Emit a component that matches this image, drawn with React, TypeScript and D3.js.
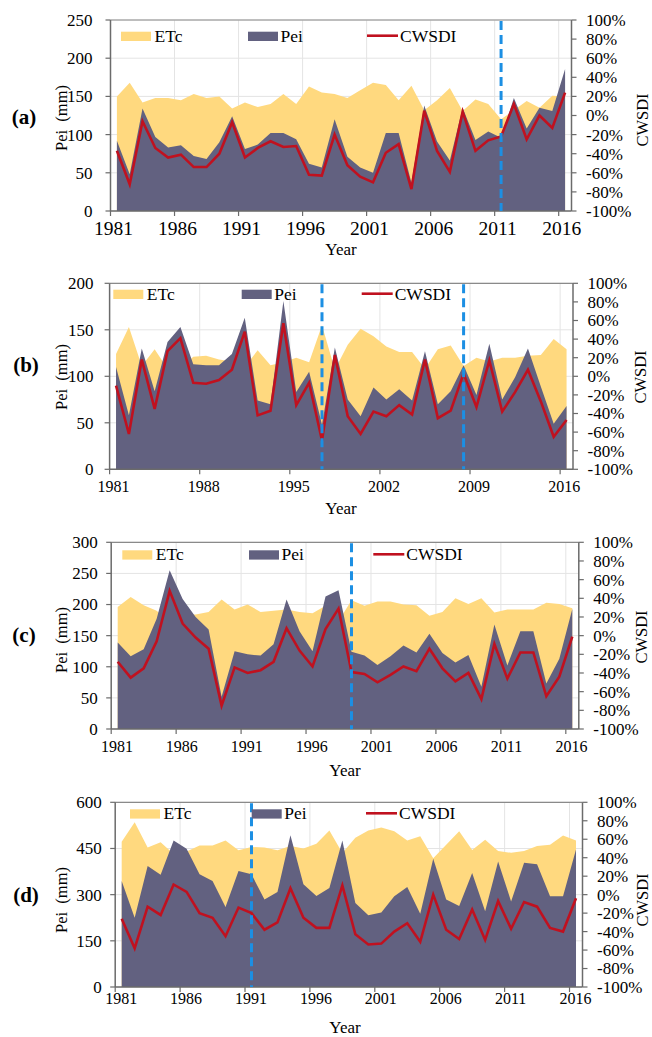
import React from "react";
import * as d3 from "d3";

const years = [1981,1982,1983,1984,1985,1986,1987,1988,1989,1990,1991,1992,1993,1994,1995,1996,1997,1998,1999,2000,2001,2002,2003,2004,2005,2006,2007,2008,2009,2010,2011,2012,2013,2014,2015,2016];

// Panel (a)
const etcA = [150,168,142,148,148,145,153,148,150,134,142,136,140,153,140,163,155,153,148,158,168,165,145,164,132,145,161,131,146,140,120,132,144,135,151,150];
const peiA = [92,48,134,97,83,86,72,68,90,124,81,87,102,102,94,62,57,120,71,57,50,102,102,37,138,91,66,135,93,104,96,148,108,135,131,186];
const cwsdiA = [-37,-72,-6,-34,-44,-41,-54,-54,-40,-7,-44,-34,-27,-33,-32,-62,-63,-20,-52,-64,-70,-39,-30,-77,5,-37,-59,4,-37,-26,-22,12,-25,0,-13,24];
const xTicksA = [1981,1986,1991,1996,2001,2006,2011,2016];
const yTicksA = [0,50,100,150,200,250];
const markA = [2011];

// Panel (b)
const etcB = [124,153,111,129,108,108,121,122,118,116,110,128,112,115,120,115,155,107,134,151,143,132,126,126,108,129,133,111,120,116,120,120,122,123,140,129];
const peiB = [110,58,130,84,137,153,113,112,112,124,163,74,70,181,83,105,48,131,75,57,88,75,86,74,127,70,84,112,80,135,75,99,130,89,49,68];
const cwsdiB = [-10,-62,18,-35,27,41,-7,-8,-4,7,48,-42,-37,57,-31,-7,-69,23,-43,-62,-38,-43,-31,-41,18,-45,-37,3,-33,17,-38,-17,7,-27,-65,-47];
const xTicksB = [1981,1988,1995,2002,2009,2016];
const yTicksB = [0,50,100,150,200];
const markB = [1997,2008];

// Panel (c)
const etcC = [196,212,199,190,172,184,184,188,208,192,200,188,190,192,188,186,198,173,207,198,205,205,200,199,182,188,210,201,210,187,192,192,192,203,201,194];
const peiC = [139,117,128,177,255,209,180,160,52,125,120,118,136,208,157,125,213,223,124,118,103,117,134,123,153,122,107,119,68,168,102,157,157,73,113,193];
const cwsdiC = [-28,-45,-35,-6,48,13,-2,-14,-75,-34,-40,-37,-28,8,-16,-33,7,29,-39,-41,-50,-42,-33,-38,-14,-35,-49,-40,-68,-9,-46,-18,-18,-65,-44,-1];
const xTicksC = [1981,1986,1991,1996,2001,2006,2011,2016];
const yTicksC = [0,50,100,150,200,250,300];
const markC = [1999];

// Panel (d)
const etcD = [472,535,453,470,432,440,460,460,476,444,455,453,444,458,450,465,508,435,485,508,518,506,476,490,418,462,506,445,478,442,436,442,458,462,492,476];
const peiD = [344,225,393,365,476,449,366,344,260,377,366,284,309,493,334,296,322,476,273,233,242,295,325,238,417,284,263,370,246,408,278,404,399,295,295,447];
const cwsdiD = [-26,-58,-13,-22,11,3,-20,-25,-45,-14,-20,-38,-30,7,-25,-36,-36,10,-43,-54,-53,-40,-31,-51,0,-38,-48,-16,-49,-7,-37,-8,-13,-36,-40,-4];
const xTicksD = [1981,1986,1991,1996,2001,2006,2011,2016];
const yTicksD = [0,150,300,450,600];
const markD = [1991];

const rightTicks = [-100,-80,-60,-40,-20,0,20,40,60,80,100];
const legendNames = ["ETc", "Pei", "CWSDI"];

const FONT = "Liberation Serif, Times New Roman, Times, DejaVu Serif, serif";
const C_ETC = "#FFD97F";
const C_PEI = "#626180";
const C_RED = "#C0111F";
const C_BLUE = "#1C8FE3";
const C_AXIS = "#6b6b6b";
const C_GRID = "#E4E4E4";

const panels = [
  { id: "(a)", etc: etcA, pei: peiA, cw: cwsdiA, xt: xTicksA, yt: yTicksA, marks: markA,
    left: 110.5, right: 571.5, top: 20, bottom: 211, lOff: 18, xFs: 19.5, xOff: 24, xLab: 3,
    lx: [121, 248, 367], ly: 31.7, yearY: 255, yearX: 341, cwX: 642, cwY: 120, peiY: 118, labX: 24, labY: 124 },
  { id: "(b)", etc: etcB, pei: peiB, cw: cwsdiB, xt: xTicksB, yt: yTicksB, marks: markB,
    left: 109.6, right: 573, top: 283.3, bottom: 469.3, lOff: 16, xFs: 16, xOff: 22.4, xLab: 4,
    lx: [113.3, 241.7, 361.7], ly: 289.7, yearY: 514, yearX: 341, cwX: 640, cwY: 377, peiY: 377, labX: 26, labY: 372 },
  { id: "(c)", etc: etcC, pei: peiC, cw: cwsdiC, xt: xTicksC, yt: yTicksC, marks: markC,
    left: 111.2, right: 578.8, top: 542.3, bottom: 729, lOff: 13.5, xFs: 16, xOff: 22.7, xLab: 5.7,
    lx: [122.3, 249, 373.3], ly: 550.3, yearY: 776, yearX: 345, cwX: 641, cwY: 637, peiY: 640, labX: 24, labY: 642 },
  { id: "(d)", etc: etcD, pei: peiD, cw: cwsdiD, xt: xTicksD, yt: yTicksD, marks: markD,
    left: 115.2, right: 582.5, top: 802.3, bottom: 987, lOff: 13.5, xFs: 16, xOff: 16.5, xLab: 6,
    lx: [130, 251.7, 366], ly: 809.3, yearY: 1033, yearX: 345, cwX: 642, cwY: 900, peiY: 900, labX: 26, labY: 902 },
];

function Panel({ p }: { p: any }) {
  const x = d3.scaleBand<number>().domain(years).range([p.left, p.right]).paddingInner(0).paddingOuter(0);
  const bw = x.bandwidth();
  const cx = (yr: number) => (x(yr) as number) + bw / 2;
  const yMax = p.yt[p.yt.length - 1];
  const y = d3.scaleLinear().domain([0, yMax]).range([p.bottom, p.top]);
  const yR = d3.scaleLinear().domain([-100, 100]).range([p.bottom, p.top]);
  const area = d3.area<number>().x((_, i) => cx(years[i])).y0(p.bottom).y1((d) => y(d));
  const line = d3.line<number>().x((_, i) => cx(years[i])).y((d) => yR(d));
  const tickX = (yr: number) => x(yr) as number;
  const ts = { fontFamily: FONT };

  return (
    <g style={ts} fill="#000">
      {p.yt.map((t: number) => (
        <line key={"hg" + t} x1={p.left} x2={p.right} y1={y(t)} y2={y(t)} stroke={C_GRID} strokeWidth={1} />
      ))}
      {p.xt.slice(1).map((t: number) => (
        <line key={"vg" + t} x1={tickX(t)} x2={tickX(t)} y1={p.top} y2={p.bottom} stroke={C_GRID} strokeWidth={1} />
      ))}
      <path d={area(p.etc) as string} fill={C_ETC} />
      <path d={area(p.pei) as string} fill={C_PEI} />
      <path d={line(p.cw) as string} fill="none" stroke={C_RED} strokeWidth={2.6} strokeLinejoin="miter" />
      <line x1={p.left} x2={p.right} y1={p.top} y2={p.top} stroke="#8a8a8a" strokeWidth={1.2} />
      <line x1={p.left} x2={p.left} y1={p.top} y2={p.bottom} stroke={C_AXIS} strokeWidth={1.5} />
      <line x1={p.right} x2={p.right} y1={p.top} y2={p.bottom} stroke={C_AXIS} strokeWidth={1.5} />
      <line x1={p.left} x2={p.right} y1={p.bottom} y2={p.bottom} stroke={C_AXIS} strokeWidth={1.5} />
      {p.marks.map((m: number) => (
        <line key={"m" + m} x1={cx(m)} x2={cx(m)} y1={p.top + 1} y2={p.bottom} stroke={C_BLUE} strokeWidth={3} strokeDasharray="9,5" />
      ))}
      {p.yt.map((t: number) => (
        <g key={"yl" + t}>
          <line x1={p.left - 5} x2={p.left} y1={y(t)} y2={y(t)} stroke={C_AXIS} strokeWidth={1.2} />
          <text style={ts} x={p.left - p.lOff} y={y(t)} dy="0.35em" textAnchor="end" fontSize={17}>{t}</text>
        </g>
      ))}
      {rightTicks.map((t) => (
        <g key={"yr" + t}>
          <line x1={p.right} x2={p.right + 5} y1={yR(t)} y2={yR(t)} stroke={C_AXIS} strokeWidth={1.2} />
          <text style={ts} x={p.right + 14.5} y={yR(t)} dy="0.35em" textAnchor="start" fontSize={17}>{t + "%"}</text>
        </g>
      ))}
      {p.xt.map((t: number) => (
        <g key={"xl" + t}>
          <line x1={tickX(t)} x2={tickX(t)} y1={p.bottom} y2={p.bottom + 5} stroke={C_AXIS} strokeWidth={1.2} />
          <text style={ts} x={tickX(t) + p.xLab} y={p.bottom + p.xOff} textAnchor="middle" fontSize={p.xFs}>{t}</text>
        </g>
      ))}
      <rect x={p.lx[0]} y={p.ly} width={30} height={9.3} fill={C_ETC} />
      <text style={ts} x={p.lx[0] + 33.5} y={p.ly + 10} fontSize={17.5}>{legendNames[0]}</text>
      <rect x={p.lx[1]} y={p.ly} width={30} height={9.3} fill={C_PEI} />
      <text style={ts} x={p.lx[1] + 32.5} y={p.ly + 10} fontSize={17.5}>{legendNames[1]}</text>
      <line x1={p.lx[2]} x2={p.lx[2] + 31} y1={p.ly + 4} y2={p.ly + 4} stroke={C_RED} strokeWidth={2.6} />
      <text style={ts} x={p.lx[2] + 33} y={p.ly + 10} fontSize={17.5}>{legendNames[2]}</text>
      <text style={ts} x={p.yearX} y={p.yearY} textAnchor="middle" fontSize={17}>Year</text>
      <text transform={`translate(61,${p.peiY}) rotate(-90)`} textAnchor="middle" dy="0.35em" fontSize={16.5} style={{ fontFamily: FONT, whiteSpace: "pre" }}>{"Pei  (mm)"}</text>
      <text style={ts} transform={`translate(${p.cwX},${p.cwY}) rotate(-90)`} textAnchor="middle" dy="0.35em" fontSize={16.5}>CWSDI</text>
      <text style={ts} x={p.labX} y={p.labY} textAnchor="middle" fontSize={21} fontWeight="bold">{p.id}</text>
    </g>
  );
}

export default function App() {
  return (
    <svg width={652} height={1037} viewBox="0 0 652 1037" style={{ position: "absolute", left: 0, top: 0, background: "#fff", fontFamily: FONT }}>
      <rect x={0} y={0} width={652} height={1037} fill="#fff" />
      {panels.map((p) => (
        <Panel key={p.id} p={p} />
      ))}
    </svg>
  );
}
